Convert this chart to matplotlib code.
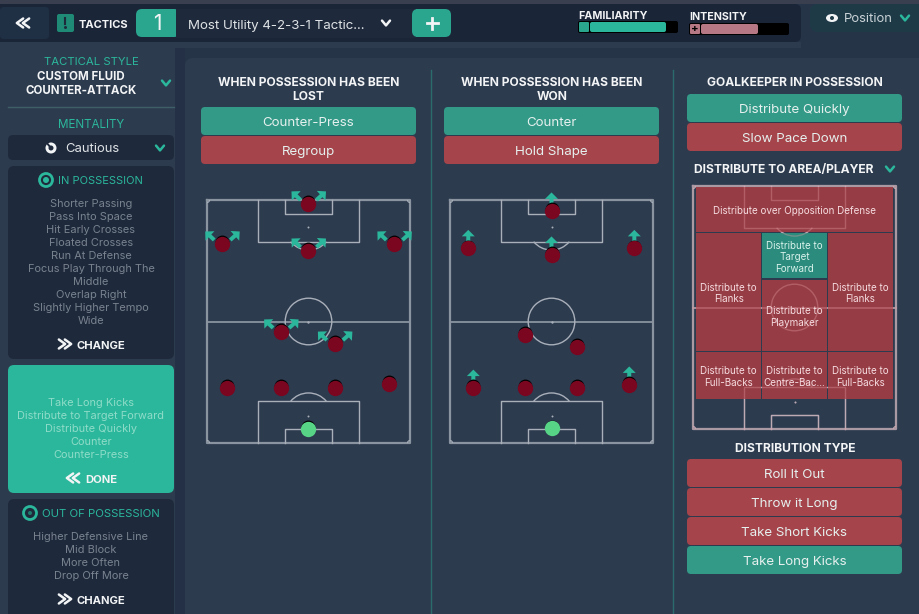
import math

import matplotlib
matplotlib.use("Agg")
import matplotlib.pyplot as plt
from matplotlib.patches import FancyBboxPatch, Rectangle, Arc, Circle, Polygon, Ellipse

plt.rcParams['font.family'] = ['Inter', 'DejaVu Sans']

W, H = 920, 614

# ---------------- colours ----------------
TEAL = '#2bb79b'
BTN_TEAL = '#339a88'
BTN_RED = '#a5444b'
ZONE_RED = '#963c44'
ZONE_TEAL = '#2b8b7c'
DARK = '#1e293c'
PANEL = '#2d3b4f'
GREY = '#79838f'
WHITE = '#f2f4f5'
PLAYER = '#7b0620'
KEEPER = '#58d486'

# ---------------- text ----------------
in_possession = ["Shorter Passing", "Pass Into Space", "Hit Early Crosses", "Floated Crosses",
                 "Run At Defense", "Focus Play Through The", "Middle", "Overlap Right",
                 "Slightly Higher Tempo", "Wide"]
transition = ["Take Long Kicks", "Distribute to Target Forward", "Distribute Quickly", "Counter", "Counter-Press"]
out_possession = ["Higher Defensive Line", "Mid Block", "More Often", "Drop Off More"]
dist_type = ["Roll It Out", "Throw it Long", "Take Short Kicks", "Take Long Kicks"]
dist_type_on = [False, False, False, True]

# ---------------- pitches (percent of pitch, keeper last) ----------------
lost_x = [50, 7.5, 50, 92.3, 36.5, 63, 10, 36.5, 63, 89.7, 50]
lost_y = [1.6, 18.1, 21, 18.1, 54.3, 59.3, 77.4, 77.4, 77.4, 75.7, 94.2]
lost_arrows = [0, 1, 2, 3, 4, 5]
won_x = [50, 9, 50, 90.8, 37, 62.7, 11.5, 37, 62.7, 88.3, 50]
won_y = [4.5, 19.9, 22.6, 19.9, 55.6, 60.5, 77.4, 77.4, 77.4, 76.1, 94]
won_arrows = [0, 1, 2, 3, 6, 9]

zone_labels = ["Distribute over Opposition Defense", "Distribute to\nFlanks", "Distribute to\nTarget\nForward",
               "Distribute to\nFlanks", "Distribute to\nPlaymaker", "Distribute to\nFull-Backs",
               "Distribute to\nCentre-Bac...", "Distribute to\nFull-Backs"]
zone_left = [1.6, 1.6, 34, 66.5, 34, 1.6, 34, 66.5]
zone_right = [98.5, 33.6, 66, 98.5, 66, 33.6, 66, 98.5]
zone_top = [0.3, 19.4, 19.4, 19.4, 38.8, 68.4, 68.4, 68.4]
zone_bottom = [19, 68, 38, 68, 68, 87.8, 87.8, 87.8]
zone_on = [False, False, True, False, False, False, False, False]

fig = plt.figure(figsize=(W / 100, H / 100), dpi=100, facecolor='#263448')
ax = fig.add_axes([0, 0, 1, 1])
ax.set_xlim(0, W)
ax.set_ylim(H, 0)
ax.axis('off')


def box(x0, y0, x1, y1, color, r=4, z=1):
    ax.add_patch(FancyBboxPatch((x0 + r, y0 + r), x1 - x0 - 2 * r, y1 - y0 - 2 * r,
                                boxstyle=f"round,pad={r},rounding_size={r}",
                                fc=color, ec='none', zorder=z))


def label(x, y, s, size=8, color=WHITE, weight='normal', ha='center'):
    ax.text(x, y + 1, s, fontsize=size, color=color, fontweight=weight, ha=ha, va='center', zorder=5)


def chevron(x, y, color=TEAL, s=4, lw=1.8, kind='down'):
    if kind == 'down':
        xs, ys = [x - s, x, x + s], [y - s * 0.6, y + s * 0.6, y - s * 0.6]
    elif kind == 'left':
        xs, ys = [x + s * 0.7, x - s * 0.7, x + s * 0.7], [y - s, y, y + s]
    else:
        xs, ys = [x - s * 0.7, x + s * 0.7, x - s * 0.7], [y - s, y, y + s]
    ax.plot(xs, ys, color=color, lw=lw, solid_capstyle='round', zorder=5)


def double(x, y, kind):
    chevron(x - 3, y, WHITE, 4.5, 1.8, kind)
    chevron(x + 3, y, WHITE, 4.5, 1.8, kind)


def button(x0, y0, x1, y1, s, on):
    box(x0, y0, x1, y1, BTN_TEAL if on else BTN_RED, 4)
    label((x0 + x1) / 2, (y0 + y1) / 2 + 1.5, s, 9.6, '#e6f0ee')


# ---------------- background blocks ----------------
ax.add_patch(Rectangle((0, 0), W, 4, fc='#3a3f50', ec='none', zorder=0))
ax.add_patch(Rectangle((0, 42), 801, 6, fc=PANEL, ec='none', zorder=0))
ax.add_patch(Rectangle((0, 48), 175, H - 48, fc=PANEL, ec='none', zorder=0))
ax.add_patch(Rectangle((175, 48), 10, H - 48, fc='#233046', ec='none', zorder=0))
box(185, 58, 930, 640, PANEL, 8)

# ---------------- top bar ----------------
ax.add_patch(Rectangle((0, 4), 790, 38, fc='#1b2538', ec='none', zorder=1))
box(780, 4, 801, 42, '#1b2538', 6)
box(0, 7, 49, 39, '#1f3045', 4, 2)
double(23, 23, 'left')
box(57, 14, 74, 32, '#1f8a76', 2, 2)
ax.plot([65.5, 65.5], [18, 24], color=DARK, lw=1.5, zorder=3)
ax.add_patch(Circle((65.5, 27.5), 1.5, fc=DARK, ec='none', zorder=3))
label(79, 24, "TACTICS", 8, WHITE, 'bold', 'left')
box(136, 9, 180, 37, '#2aa58e', 6, 2)
ax.add_patch(Rectangle((176, 9), 240, 29, fc='#1e293c', ec='none', zorder=2))
label(157, 22.5, "1", 15, WHITE, 'normal')
label(188, 24.5, "Most Utility 4-2-3-1 Tactic...", 9.6, '#dfe3e6', 'normal', 'left')
chevron(386, 23, WHITE, 4, 1.8)
box(412, 9, 451, 37, '#2aa58e', 6, 2)
ax.add_patch(Rectangle((416, 9), 6, 28, fc='#2aa58e', ec='none', zorder=3))
ax.plot([427, 438], [23, 23], color=WHITE, lw=2, zorder=4)
ax.plot([432.5, 432.5], [17.5, 28.5], color=WHITE, lw=2, zorder=4)

label(578, 15, "FAMILIARITY", 7.7, WHITE, 'bold', 'left')
box(578, 21, 678, 33, 'black', 2, 2)
box(579, 22, 589, 32, '#2aa58e', 1, 3)
box(590, 22, 666, 32, TEAL, 2, 3)
label(689, 16, "INTENSITY", 7.7, WHITE, 'bold', 'left')
box(689, 23, 789, 35, 'black', 2, 2)
box(690, 24, 700, 34, '#b57884', 1, 3)
box(701, 24, 758, 34, '#b57884', 2, 3)
label(695, 28, "+", 8, 'black', 'bold')

box(810, 4, 940, 32, '#1e3a47', 8, 2)
label(868, 18.5, "Position", 9.4, '#c9d2d6')
ax.add_patch(Ellipse((832, 18), 12, 8, fc=WHITE, ec='none', zorder=4))
ax.add_patch(Circle((832, 18), 2, fc='#1e3a47', ec='none', zorder=5))
chevron(905, 18, TEAL, 4)

# ---------------- side bar ----------------
label(91, 61, "TACTICAL STYLE", 8.2, TEAL)
label(81, 76, "CUSTOM FLUID", 8.3, WHITE, 'bold')
label(81, 90, "COUNTER-ATTACK", 8.3, WHITE, 'bold')
chevron(166, 83, TEAL, 4)
ax.plot([8, 174], [107, 107], color='#3e5f68', lw=1, zorder=2)
label(91, 124, "MENTALITY", 8.4, TEAL)
box(8, 135, 174, 160, DARK, 5, 2)
ax.add_patch(Circle((51, 148), 5.5, fc=WHITE, ec='none', zorder=4))
ax.add_patch(Circle((51, 148), 2.5, fc=DARK, ec='none', zorder=5))
ax.plot([46, 51], [142, 148], color=DARK, lw=1.4, zorder=6)
label(65, 147.5, "Cautious", 9.4, '#dfe3e6', 'normal', 'left')
chevron(160, 148, TEAL, 4)

box(8, 166, 174, 359, DARK, 6, 2)
ax.add_patch(Circle((46, 180), 6.5, fc='none', ec=TEAL, lw=2, zorder=4))
ax.add_patch(Circle((46, 180), 3, fc=TEAL, ec='none', zorder=4))
label(58, 180, "IN POSSESSION", 8.0, TEAL, 'normal', 'left')
for i, s in enumerate(in_possession):
    label(91, 203 + 13 * i, s, 7.9, GREY)
double(65, 344, 'right')
label(77, 345, "CHANGE", 8.1, WHITE, 'bold', 'left')

box(8, 365, 174, 493, TEAL, 6, 2)
for i, s in enumerate(transition):
    label(91, 402 + 13 * i, s, 7.9, '#8fdcc9')
double(73, 478, 'left')
label(85, 479, "DONE", 8.1, WHITE, 'bold', 'left')

box(8, 499, 174, 630, DARK, 6, 2)
ax.add_patch(Circle((30, 513), 6.5, fc='none', ec=TEAL, lw=2, zorder=4))
ax.add_patch(Circle((30, 513), 2, fc='#1f7a6d', ec='none', zorder=4))
label(42, 513, "OUT OF POSSESSION", 8.2, TEAL, 'normal', 'left')
for i, s in enumerate(out_possession):
    label(91, 536 + 13 * i, s, 7.9, GREY)
double(65, 599, 'right')
label(77, 600, "CHANGE", 8.1, WHITE, 'bold', 'left')

# ---------------- main panel ----------------
ax.plot([431, 431], [70, H], color='#2a6b6b', lw=1, zorder=2)
ax.plot([673, 673], [70, H], color='#2a6b6b', lw=1, zorder=2)

label(308.5, 82, "WHEN POSSESSION HAS BEEN", 8.7, WHITE, 'bold')
label(308.5, 96, "LOST", 8.7, WHITE, 'bold')
button(201, 107, 416, 135, "Counter-Press", True)
button(201, 136, 416, 164, "Regroup", False)

label(552, 82, "WHEN POSSESSION HAS BEEN", 8.7, WHITE, 'bold')
label(552, 96, "WON", 8.7, WHITE, 'bold')
button(444, 107, 659, 135, "Counter", True)
button(444, 136, 659, 164, "Hold Shape", False)

label(794.5, 82, "GOALKEEPER IN POSSESSION", 8.7, WHITE, 'bold')
button(687, 94, 902, 122, "Distribute Quickly", True)
button(687, 123, 902, 151, "Slow Pace Down", False)
label(694, 169, "DISTRIBUTE TO AREA/PLAYER", 8.7, WHITE, 'bold', 'left')
chevron(890, 169, TEAL, 4)
label(795, 448, "DISTRIBUTION TYPE", 8.7, WHITE, 'bold')
for i, s in enumerate(dist_type):
    button(687, 459 + 29 * i, 902, 487 + 29 * i, s, dist_type_on[i])


# ---------------- pitches ----------------
PW, PH = 203, 243


def pitch_axes(x0, y0):
    pa = fig.add_axes([x0 / W, 1 - (y0 + PH) / H, PW / W, PH / H])
    pa.set_xlim(0, 100)
    pa.set_ylim(100, 0)
    pa.axis('off')
    pa.patch.set_alpha(0)
    return pa


def pitch_lines(pa, z=1, color='#a9b0ba', outer='#8a94a0', alpha=1.0):
    kw = dict(color=color, lw=1, alpha=alpha, zorder=z, clip_on=False)
    # outer box and halfway line
    pa.plot([0, 100, 100, 0, 0], [0, 0, 100, 100, 0], color=outer, lw=1.6, alpha=alpha, zorder=z, clip_on=False)
    pa.plot([0, 100], [50, 50], color=outer, lw=1.3, alpha=alpha, zorder=z, clip_on=False)
    for top, sign in ((0, 1), (100, -1)):
        pa.plot([25, 25, 75, 75], [top, top + sign * 17.1, top + sign * 17.1, top], **kw)
        pa.plot([38.5, 38.5, 61.5, 61.5], [top, top + sign * 5.8, top + sign * 5.8, top], **kw)
        pa.scatter([50], [top + sign * 11], s=2, color=color, alpha=alpha, zorder=z, linewidths=0)
        # penalty arc, only the part outside the box
        th1, th2 = (35, 145) if sign == 1 else (215, 325)
        pa.add_patch(Arc((50, top + sign * 11), 2 * 23.3 * 100 / PW, 2 * 23.3 * 100 / PH,
                         theta1=th1, theta2=th2, ec=color, lw=1, alpha=alpha, zorder=z))
    pa.add_patch(Arc((50, 50), 2 * 23.3 * 100 / PW, 2 * 23.3 * 100 / PH, ec=color, lw=1, alpha=alpha, zorder=z))
    pa.scatter([50], [50], s=3, color=color, alpha=alpha, zorder=z, linewidths=0)
    # corner arcs
    for cx, cy in ((0, 0), (100, 0), (0, 100), (100, 100)):
        pa.add_patch(Arc((cx, cy), 5 * 100 / PW, 5 * 100 / PH, ec=color, lw=0.8, alpha=alpha, zorder=z, clip_on=True))


def arrow(pa, x, y, dx0, dy0, dx1, dy1):
    # offsets in pixels from the player's centre, head drawn as a polygon
    sx, sy = 100 / PW, 100 / PH
    length = math.hypot(dx1 - dx0, dy1 - dy0)
    ux, uy = (dx1 - dx0) / length, (dy1 - dy0) / length
    nx, ny = -uy, ux
    head, hw, sw = 6.5, 6.5, 2
    bx, by = dx1 - ux * head, dy1 - uy * head
    pts = [(dx0 + nx * sw, dy0 + ny * sw), (bx + nx * sw, by + ny * sw), (bx + nx * hw, by + ny * hw),
           (dx1, dy1), (bx - nx * hw, by - ny * hw), (bx - nx * sw, by - ny * sw), (dx0 - nx * sw, dy0 - ny * sw)]
    pa.add_patch(Polygon([(x + px * sx, y + py * sy) for px, py in pts], closed=True, fc=TEAL, ec='none',
                         zorder=6, clip_on=False))


def players(pa, xs, ys, arrows, diagonal):
    sy = 100 / PH
    for i in arrows:
        if diagonal:
            arrow(pa, xs[i], ys[i], -8, -4, -17, -12.5)
            arrow(pa, xs[i], ys[i], 8, -4, 17.5, -12.5)
        else:
            arrow(pa, xs[i], ys[i], 0, -6, 0, -18.5)
    shadow_y = [y - 1.8 * sy for y in ys]
    pa.scatter(xs, shadow_y, s=100, color='black', linewidths=0, zorder=7, clip_on=False)
    pa.scatter(xs[:-1], ys[:-1], s=122, color=PLAYER, linewidths=0, zorder=8, clip_on=False)
    pa.scatter(xs[-1:], ys[-1:], s=122, color=KEEPER, linewidths=0, zorder=8, clip_on=False)


pitch_lost = pitch_axes(207, 200)
pitch_lines(pitch_lost)
players(pitch_lost, lost_x, lost_y, lost_arrows, True)

pitch_won = pitch_axes(450, 200)
pitch_lines(pitch_won)
players(pitch_won, won_x, won_y, won_arrows, False)

pitch_dist = pitch_axes(693, 186)
pitch_lines(pitch_dist)
for i, s in enumerate(zone_labels):
    pitch_dist.add_patch(Rectangle((zone_left[i], zone_top[i]), zone_right[i] - zone_left[i],
                                   zone_bottom[i] - zone_top[i],
                                   fc=ZONE_TEAL if zone_on[i] else ZONE_RED, ec='none', zorder=2))
pitch_lines(pitch_dist, z=3, color='#e8a0a8', outer='#e8a0a8', alpha=0.35)
for i, s in enumerate(zone_labels):
    pitch_dist.text((zone_left[i] + zone_right[i]) / 2, (zone_top[i] + zone_bottom[i]) / 2 + 0.6, s,
                    fontsize=7.1, color='#f5dce0' if not zone_on[i] else '#d8f2ec', ha='center', va='center',
                    linespacing=1.2, zorder=5)

fig.savefig("out.png", dpi=100, facecolor=fig.get_facecolor())
